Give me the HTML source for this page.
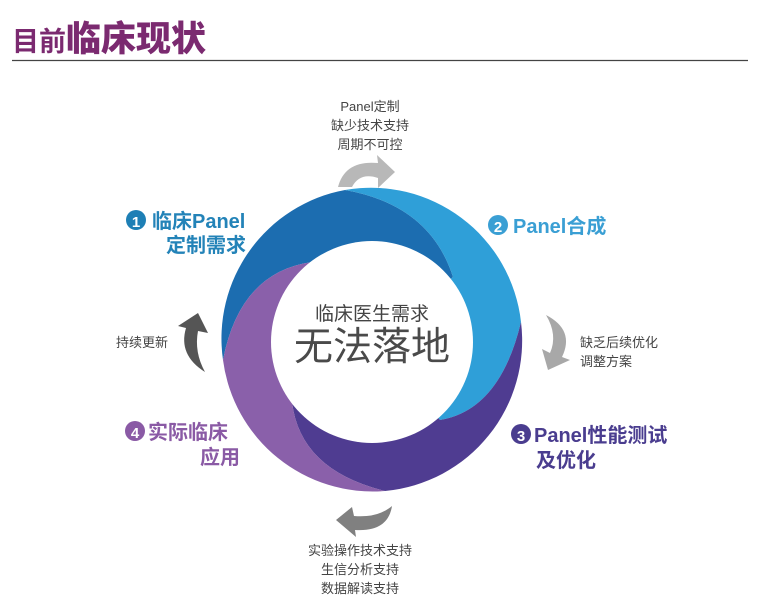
<!DOCTYPE html>
<html><head><meta charset="utf-8"><style>
html,body{margin:0;padding:0;background:#fff;}
body{width:764px;height:612px;position:relative;overflow:hidden;font-family:"Liberation Sans","Noto Sans CJK SC",sans-serif;}
svg{position:absolute;left:0;top:0;}
</style></head><body>
<svg width="764" height="612" viewBox="0 0 764 612" xmlns="http://www.w3.org/2000/svg" font-family="'Liberation Sans','Noto Sans CJK SC',sans-serif">
<text x="12" y="51" font-size="27" fill="#7b2a70" font-weight="bold">目前<tspan font-size="35" font-weight="900">临床现状</tspan></text>
<line x1="12" y1="60.5" x2="748" y2="60.5" stroke="#444" stroke-width="1.2"/>

<!-- ring -->
<path d="M223,360 A151,151 0 0 1 345,190 Q430,205 453,277 L372,342 L312,262 Q240,272 223,360 Z" fill="#1c6db0"/>
<path d="M345,190 A151,151 0 0 1 521,322 Q500,410 440,420 L372,342 L453,277 Q430,205 345,190 Z" fill="#2f9fd8"/>
<path d="M521,322 A151,151 0 0 1 385,491 Q300,470 292,402 L372,342 L440,420 Q500,410 521,322 Z" fill="#4f3c91"/>
<path d="M385,491 A151,151 0 0 1 223,360 Q240,272 312,262 L372,342 L292,402 Q300,470 385,491 Z" fill="#8a60aa"/>
<circle cx="372" cy="342" r="101" fill="#fff"/>

<text x="372" y="320" font-size="19" fill="#444" text-anchor="middle">临床医生需求</text>
<text x="372" y="360" font-size="39" fill="#4a4a4a" text-anchor="middle">无法落地</text>

<!-- arrows -->
<path d="M338,187 Q345,160 378,163 L377,155 L395,172 L378,188 L378,178 Q360,172 352,187 Z" fill="#b8b8b8"/>
<path d="M546,315 Q575,330 562,357 L570,360 L548,370 L542,349 L550,353 Q558,335 546,315 Z" fill="#a8a8a8"/>
<path d="M392,506 Q388,532 355,530 L356,537 L336,520 L352,507 L354,516 Q378,518 392,506 Z" fill="#808080"/>
<path d="M205,372 Q178,355 186,328 L178,326 L198,313 L208,333 L198,331 Q194,352 205,372 Z" fill="#555"/>

<!-- small texts -->
<g font-size="13" fill="#444" text-anchor="middle">
<text x="370" y="111">Panel定制</text>
<text x="370" y="130">缺少技术支持</text>
<text x="370" y="149">周期不可控</text>
<text x="360" y="555">实验操作技术支持</text>
<text x="360" y="574">生信分析支持</text>
<text x="360" y="593">数据解读支持</text>
</g>
<g font-size="13" fill="#444">
<text x="580" y="347">缺乏后续优化</text>
<text x="580" y="366">调整方案</text>
<text x="168" y="347" text-anchor="end">持续更新</text>
</g>

<!-- stage labels -->
<circle cx="136" cy="220" r="10" fill="#1e7fb5"/>
<text x="136" y="227" font-size="15" fill="#fff" text-anchor="middle" font-weight="bold">1</text>
<text x="152" y="228" font-size="20" fill="#2383b8" font-weight="bold">临床Panel</text>
<text x="246" y="252" font-size="20" fill="#2383b8" font-weight="bold" text-anchor="end">定制需求</text>

<circle cx="498" cy="225" r="10" fill="#3a9fd4"/>
<text x="498" y="232" font-size="15" fill="#fff" text-anchor="middle" font-weight="bold">2</text>
<text x="513" y="233" font-size="20" fill="#3a9fd4" font-weight="bold">Panel合成</text>

<circle cx="521" cy="434" r="10" fill="#4a3d8f"/>
<text x="521" y="441" font-size="15" fill="#fff" text-anchor="middle" font-weight="bold">3</text>
<text x="534" y="442" font-size="20" fill="#4a3d8f" font-weight="bold">Panel性能测试</text>
<text x="536" y="467" font-size="20" fill="#4a3d8f" font-weight="bold">及优化</text>

<circle cx="135" cy="431" r="10" fill="#8a5aa5"/>
<text x="135" y="438" font-size="15" fill="#fff" text-anchor="middle" font-weight="bold">4</text>
<text x="148" y="439" font-size="20" fill="#8a5aa5" font-weight="bold">实际临床</text>
<text x="240" y="464" font-size="20" fill="#8a5aa5" font-weight="bold" text-anchor="end">应用</text>
</svg>
</body></html>
